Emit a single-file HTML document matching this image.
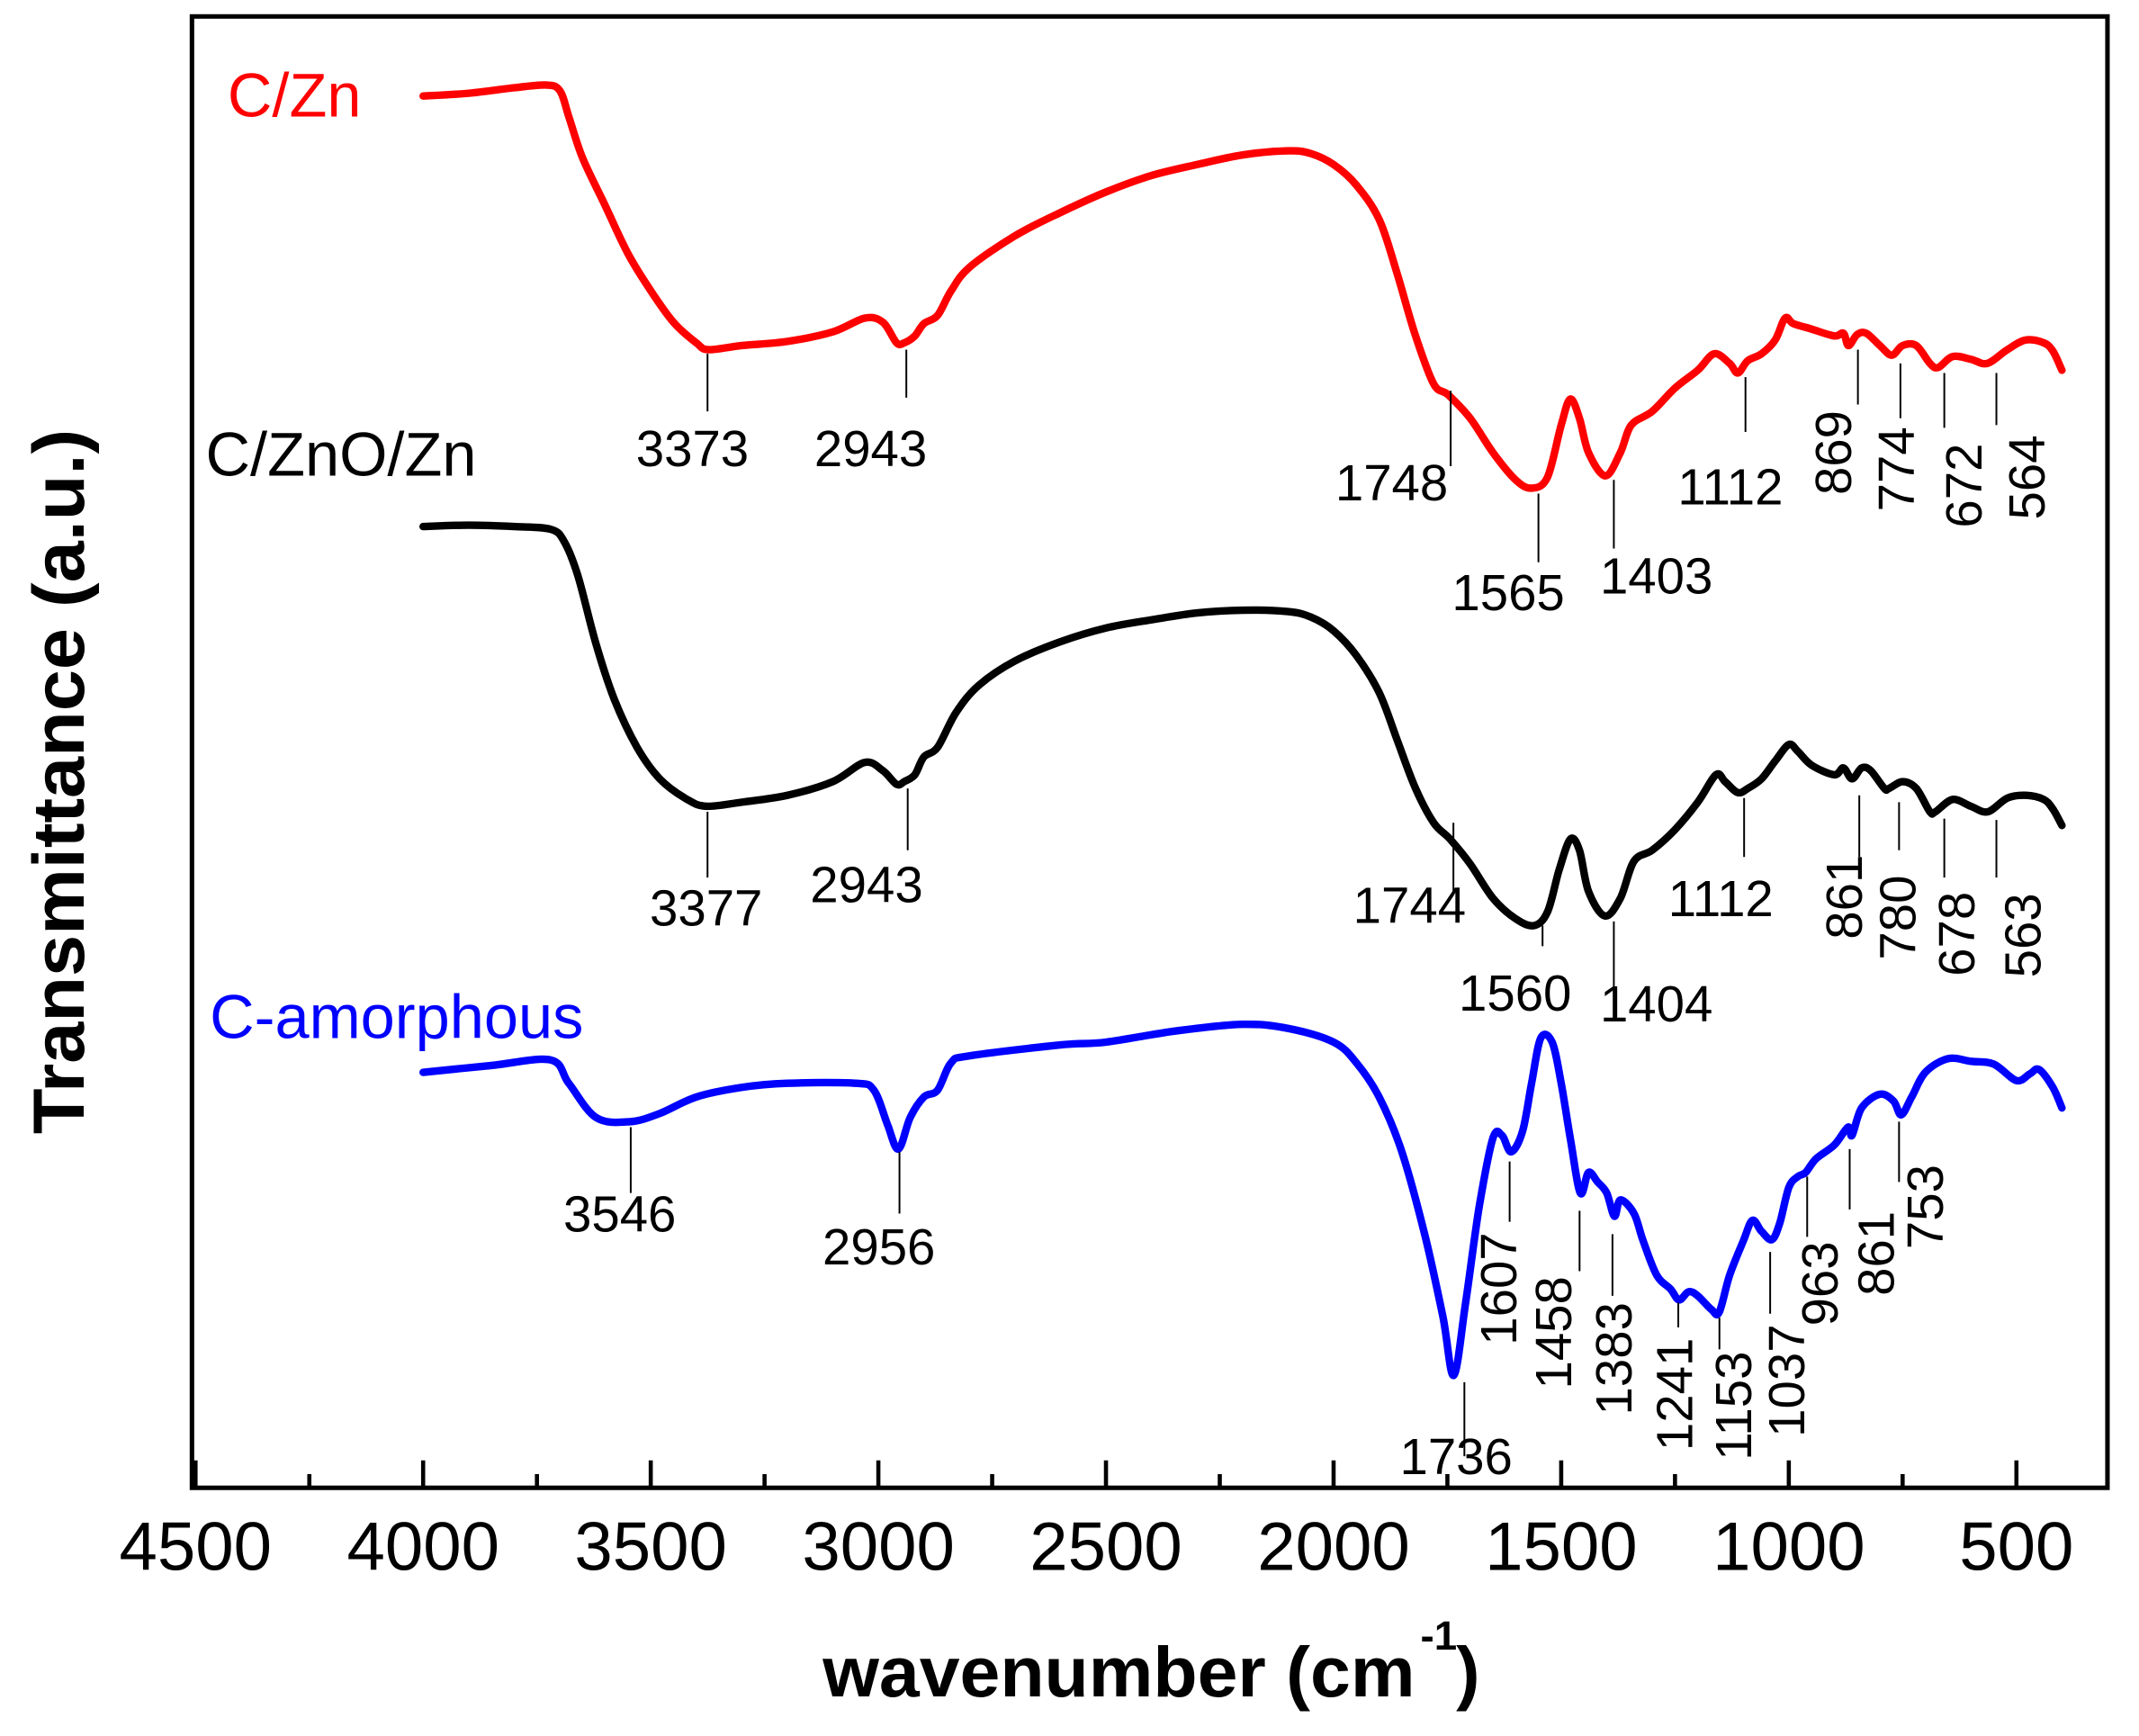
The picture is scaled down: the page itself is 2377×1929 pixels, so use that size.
<!DOCTYPE html>
<html><head><meta charset="utf-8"><style>
html,body{margin:0;padding:0;background:#fff;}
svg{display:block;}
text{font-family:"Liberation Sans",Arial,sans-serif;}
</style></head><body>
<svg id="s" width="2377" height="1929" viewBox="0 0 1560 1266" preserveAspectRatio="none" xmlns="http://www.w3.org/2000/svg">
<rect x="0" y="0" width="1560" height="1266" fill="#fff"/>
<g id="ticks" stroke="#000" stroke-width="3"></g>
<rect x="140" y="12" width="1397" height="1073" fill="none" stroke="#000" stroke-width="3.3"/>
<g font-size="50" text-anchor="middle" fill="#000">
<text x="142.6" y="1145">4500</text><text x="308.6" y="1145">4000</text><text x="474.6" y="1145">3500</text>
<text x="640.6" y="1145">3000</text><text x="806.6" y="1145">2500</text><text x="972.6" y="1145">2000</text>
<text x="1138.6" y="1145">1500</text><text x="1304.6" y="1145">1000</text><text x="1470.6" y="1145">500</text>
</g>
<text x="600" y="1237" font-size="52" font-weight="bold" textLength="432" lengthAdjust="spacingAndGlyphs">wavenumber (cm</text>
<text x="1036" y="1203" font-size="30" font-weight="bold">-1</text>
<text x="1062" y="1237" font-size="52" font-weight="bold">)</text>
<text transform="translate(61,827) rotate(-90)" font-size="53" font-weight="bold" textLength="514" lengthAdjust="spacingAndGlyphs">Transmittance (a.u.)</text>
<text x="166" y="85" font-size="45" fill="#f00">C/Zn</text>
<text x="150" y="347" font-size="45" fill="#000">C/ZnO/Zn</text>
<text x="153" y="757" font-size="45" fill="#00f">C-amorphous</text>
<path id="red" fill="none" stroke="#f00" stroke-width="5.5" stroke-linejoin="round" stroke-linecap="round"/>
<path id="blk" fill="none" stroke="#000" stroke-width="5.5" stroke-linejoin="round" stroke-linecap="round"/>
<path id="blu" fill="none" stroke="#00f" stroke-width="5.5" stroke-linejoin="round" stroke-linecap="round"/>
<g stroke="#000" stroke-width="1.3">
<line x1="516" y1="258" x2="516" y2="300"/><line x1="661" y1="255" x2="661" y2="290"/>
<line x1="1058" y1="285" x2="1058" y2="340"/><line x1="1122" y1="360" x2="1122" y2="410"/>
<line x1="1177" y1="350" x2="1177" y2="400"/><line x1="1273" y1="275" x2="1273" y2="315"/>
<line x1="1355" y1="255" x2="1355" y2="295"/><line x1="1386" y1="265" x2="1386" y2="305"/>
<line x1="1418" y1="272" x2="1418" y2="312"/><line x1="1456" y1="272" x2="1456" y2="310"/>
<line x1="516" y1="592" x2="516" y2="640"/><line x1="662" y1="575" x2="662" y2="620"/>
<line x1="1060" y1="600" x2="1060" y2="650"/><line x1="1125" y1="675" x2="1125" y2="690"/>
<line x1="1177" y1="672" x2="1177" y2="720"/><line x1="1272" y1="582" x2="1272" y2="625"/>
<line x1="1356" y1="580" x2="1356" y2="625"/><line x1="1385" y1="585" x2="1385" y2="620"/>
<line x1="1418" y1="597" x2="1418" y2="640"/><line x1="1456" y1="598" x2="1456" y2="640"/>
<line x1="460" y1="822" x2="460" y2="870"/><line x1="656" y1="840" x2="656" y2="885"/>
<line x1="1068" y1="1008" x2="1068" y2="1062"/>
<line x1="1101" y1="847" x2="1101" y2="891"/><line x1="1152" y1="883" x2="1152" y2="927"/>
<line x1="1176" y1="900" x2="1176" y2="945"/><line x1="1224" y1="950" x2="1224" y2="968"/>
<line x1="1254" y1="961" x2="1254" y2="984"/><line x1="1291" y1="913" x2="1291" y2="958"/>
<line x1="1318" y1="858" x2="1318" y2="902"/><line x1="1349" y1="838" x2="1349" y2="882"/>
<line x1="1385" y1="818" x2="1385" y2="862"/>
</g>
<g font-size="37" fill="#000" text-anchor="middle">
<text x="505" y="340">3373</text><text x="635" y="340">2943</text><text x="1015" y="365">1748</text>
<text x="1100" y="445">1565</text><text x="1208" y="433">1403</text><text x="1262" y="368">1112</text>
<text x="515" y="675">3377</text><text x="632" y="658">2943</text><text x="1028" y="673">1744</text>
<text x="1105" y="737">1560</text><text x="1208" y="745">1404</text><text x="1255" y="668">1112</text>
<text x="452" y="898">3546</text><text x="641" y="922">2956</text><text x="1062" y="1075">1736</text>
</g>
<g font-size="37" fill="#000">
<text transform="translate(1350,361) rotate(-90)">869</text>
<text transform="translate(1396,373) rotate(-90)">774</text>
<text transform="translate(1445,385) rotate(-90)">672</text>
<text transform="translate(1491,379) rotate(-90)">564</text>
<text transform="translate(1358,685) rotate(-90)">861</text>
<text transform="translate(1397,700) rotate(-90)">780</text>
<text transform="translate(1440,712) rotate(-90)">678</text>
<text transform="translate(1488,713) rotate(-90)">563</text>
<text transform="translate(1106,981) rotate(-90)">1607</text>
<text transform="translate(1146,1013) rotate(-90)">1458</text>
<text transform="translate(1190,1032) rotate(-90)">1383</text>
<text transform="translate(1234,1058) rotate(-90)">1241</text>
<text transform="translate(1277,1065) rotate(-90)">1153</text>
<text transform="translate(1316,1048) rotate(-90)">1037</text>
<text transform="translate(1340,967) rotate(-90)">963</text>
<text transform="translate(1381,945) rotate(-90)">861</text>
<text transform="translate(1417,911) rotate(-90)">753</text>
</g>
</svg>
<script>
function X(w){return 142.6+(4500-w)*0.332;}
var ticks=document.getElementById('ticks'),h='';
for(var w=4500;w>=500;w-=250){var x=X(w),maj=(w%500===0);h+='<line x1="'+x+'" y1="1085" x2="'+x+'" y2="'+(maj?1065:1075)+'"/>';}
ticks.innerHTML=h;
function path(d){var p=d.map(function(a){return [X(a[0]),a[1]];});var s='M'+p[0][0].toFixed(1)+','+p[0][1];
for(var i=0;i<p.length-1;i++){var p0=p[i>0?i-1:i],p1=p[i],p2=p[i+1],p3=p[i+2<p.length?i+2:i+1];
var c1x=p1[0]+(p2[0]-p0[0])/6,c1y=p1[1]+(p2[1]-p0[1])/6,c2x=p2[0]-(p3[0]-p1[0])/6,c2y=p2[1]-(p3[1]-p1[1])/6;
s+=' C'+c1x.toFixed(1)+','+c1y.toFixed(1)+' '+c2x.toFixed(1)+','+c2y.toFixed(1)+' '+p2[0].toFixed(1)+','+p2[1];}
return s;}
var red=[[4000,70],[3900,68],[3800,64],[3730,62],[3700,66],[3680,85],[3650,115],[3600,150],[3550,185],[3500,212],[3450,235],[3400,250],[3373,255],[3300,252],[3200,249],[3100,242],[3030,232],[2990,235],[2960,250],[2943,250],[2920,245],[2900,236],[2870,230],[2840,212],[2800,195],[2700,172],[2600,155],[2500,140],[2400,128],[2300,120],[2200,113],[2100,110],[2050,112],[2000,120],[1950,135],[1900,160],[1860,200],[1820,245],[1780,280],[1748,288],[1700,305],[1650,330],[1600,350],[1565,356],[1530,348],[1500,310],[1480,291],[1460,305],[1440,330],[1403,347],[1370,330],[1346,310],[1300,300],[1250,283],[1200,270],[1164,258],[1130,265],[1112,272],[1090,263],[1060,258],[1030,248],[1008,232],[990,236],[950,240],[900,245],[880,243],[869,252],[850,244],[830,243],[800,252],[774,259],[750,252],[720,252],[690,265],[672,268],[640,260],[600,262],[564,265],[520,255],[480,248],[440,250],[420,256],[400,270]];
var blk=[[4000,384],[3900,383],[3800,384],[3720,386],[3690,395],[3660,420],[3620,470],[3580,510],[3530,545],[3480,568],[3420,583],[3377,588],[3300,585],[3200,580],[3100,570],[3030,556],[2990,562],[2960,572],[2943,570],[2920,565],[2900,552],[2870,545],[2830,520],[2780,500],[2700,482],[2600,468],[2500,458],[2400,452],[2300,447],[2200,445],[2100,446],[2050,450],[2000,460],[1950,478],[1900,505],[1860,540],[1820,575],[1780,600],[1744,612],[1700,630],[1650,655],[1600,670],[1560,675],[1530,665],[1505,635],[1480,612],[1460,620],[1440,650],[1404,668],[1370,655],[1340,628],[1300,620],[1250,605],[1200,585],[1160,565],[1140,570],[1112,578],[1090,575],[1060,568],[1030,555],[1000,543],[980,548],[950,558],[900,565],[880,560],[861,568],[840,560],[820,562],[790,575],[780,575],[750,570],[720,575],[690,592],[678,592],[640,583],[600,588],[563,592],[520,582],[480,580],[440,583],[420,590],[400,602]];
var blu=[[4000,782],[3850,777],[3720,773],[3680,790],[3620,815],[3546,818],[3480,812],[3400,800],[3300,793],[3200,790],[3050,790],[3010,795],[2980,820],[2956,838],[2930,815],[2900,800],[2870,795],[2840,775],[2800,770],[2600,762],[2500,760],[2350,752],[2200,747],[2100,750],[2000,760],[1950,775],[1900,800],[1850,840],[1800,900],[1760,960],[1736,1003],[1710,950],[1680,880],[1650,830],[1630,828],[1610,840],[1585,825],[1565,790],[1545,757],[1520,760],[1500,790],[1480,830],[1458,870],[1440,855],[1420,862],[1400,870],[1383,887],[1370,875],[1340,885],[1320,905],[1290,930],[1260,940],[1241,948],[1220,942],[1200,945],[1170,955],[1153,957],[1130,930],[1100,905],[1080,890],[1060,898],[1037,904],[1020,892],[1000,866],[980,858],[963,855],[940,845],[900,835],[870,822],[861,828],[840,808],[800,798],[770,803],[753,813],[730,800],[700,782],[650,772],[600,774],[550,776],[500,788],[470,783],[450,780],[420,793],[400,808]];
document.getElementById('red').setAttribute('d',path(red));
document.getElementById('blk').setAttribute('d',path(blk));
document.getElementById('blu').setAttribute('d',path(blu));
</script>
</body></html>
